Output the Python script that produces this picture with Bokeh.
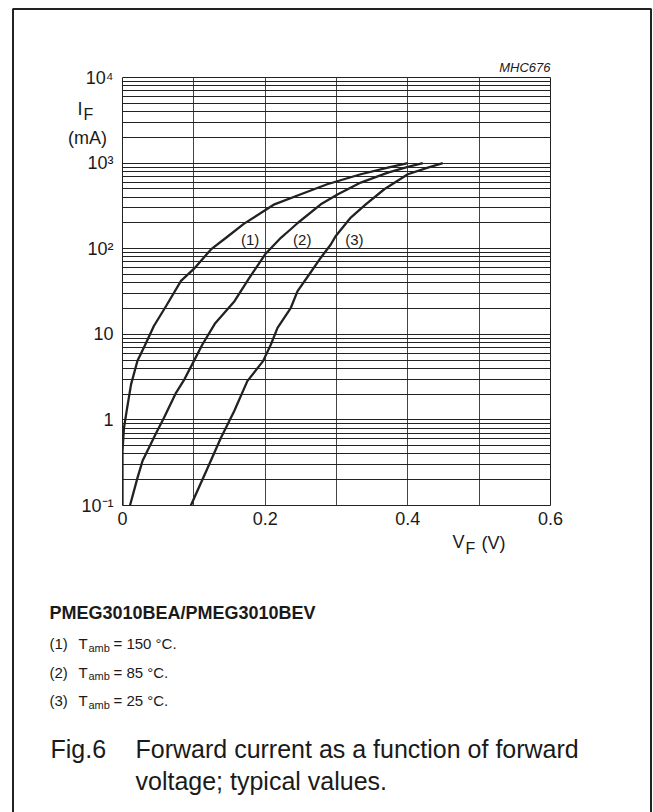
from bokeh.plotting import figure
from bokeh.layouts import column
from bokeh.models import Range1d, FixedTicker, ColumnDataSource
from bokeh.core.properties import value
from bokeh.embed import file_html
from bokeh.resources import INLINE

# ---------------- data ----------------
vf_150 = [0.0, 0.0, 0.002, 0.006, 0.012, 0.021, 0.031, 0.044, 0.062, 0.082, 0.100,
          0.124, 0.147, 0.170, 0.213, 0.250, 0.287, 0.334, 0.372, 0.400]
if_150 = [0.1, 0.43, 0.8, 1.3, 2.6, 4.9, 7.3, 12.5, 22, 42, 58,
          98, 138, 195, 330, 433, 566, 741, 885, 1000]
vf_85 = [0.0105, 0.021, 0.028, 0.047, 0.058, 0.075, 0.087, 0.100, 0.112, 0.130, 0.157,
         0.178, 0.200, 0.222, 0.233, 0.246, 0.278, 0.302, 0.334, 0.372, 0.400, 0.421]
if_85 = [0.1, 0.21, 0.33, 0.7, 1.05, 2.07, 3.0, 4.86, 7.6, 13.5, 24.4,
         45.8, 86, 134, 161, 201, 330, 433, 592, 774, 902, 1000]
vf_25 = [0.0958, 0.119, 0.138, 0.1565, 0.175, 0.197, 0.208, 0.2173, 0.236, 0.2454,
         0.2617, 0.278, 0.292, 0.299, 0.320, 0.341, 0.367, 0.400, 0.428, 0.449]
if_25 = [0.1, 0.27, 0.62, 1.26, 2.84, 4.86, 7.6, 11.9, 20.4, 32,
         50, 78.5, 112, 141, 231, 330, 495, 741, 885, 1000]

curve_names = ["(1)", "(2)", "(3)"]
curve_label_v = [0.179, 0.252, 0.325]
curve_label_i = [128, 128, 128]

x_ticks = [0, 0.2, 0.4, 0.6]
x_tick_labels = ["0", "0.2", "0.4", "0.6"]
x_grid = [0, 0.1, 0.2, 0.3, 0.4, 0.5, 0.6]
y_decades = [0.1, 1, 10, 100, 1000, 10000]
y_tick_labels = ["10\u207b\u00b9", "1", "10", "10\u00b2", "10\u00b3", "10\u2074"]
y_minor = [m * d for d in [0.1, 1, 10, 100, 1000] for m in range(2, 10)]

legend_lines = ["(1)", "(2)", "(3)"]
legend_temps = ["= 150 \u00b0C.", "= 85 \u00b0C.", "= 25 \u00b0C."]

# ---------------- chart ----------------
FONT = "Liberation Sans"
INK = "#1a1a1a"
W, H = 653, 812
L, T, PW, PH = 122, 77, 428, 428

p = figure(width=W, height=H,
           x_range=Range1d(0, 0.6), y_range=Range1d(0.1, 10000),
           y_axis_type="log", output_backend="svg", toolbar_location=None,
           min_border_left=L, min_border_right=W - L - PW,
           min_border_top=T, min_border_bottom=H - T - PH)
p.background_fill_color = "white"
p.border_fill_color = "white"
p.outline_line_color = "#222222"
p.outline_line_width = 1

xt = FixedTicker(ticks=x_ticks)
p.xaxis.ticker = xt
p.xaxis.major_label_overrides = dict(zip(x_ticks, x_tick_labels))
yt = FixedTicker(ticks=y_decades, minor_ticks=y_minor)
p.yaxis.ticker = yt
p.yaxis.major_label_overrides = dict(zip(y_decades, y_tick_labels))
for ax in (p.xaxis, p.yaxis):
    ax.axis_line_color = None
    ax.major_tick_line_color = None
    ax.minor_tick_line_color = None
    ax.major_tick_out = 0
    ax.minor_tick_out = 0
    ax.major_tick_in = 0
    ax.minor_tick_in = 0
    ax.major_label_text_font = FONT
    ax.major_label_text_font_size = "18px"
    ax.major_label_text_color = INK
p.xaxis.major_label_standoff = 6
p.yaxis.major_label_standoff = 9

p.xgrid.ticker = FixedTicker(ticks=x_grid)
p.xgrid.grid_line_color = "#444444"
p.xgrid.grid_line_width = 1
p.ygrid.ticker = yt
p.ygrid.grid_line_color = "#222222"
p.ygrid.grid_line_width = 1
p.ygrid.minor_grid_line_color = "#222222"
p.ygrid.minor_grid_line_width = 1

for v, i in ((vf_150, if_150), (vf_85, if_85), (vf_25, if_25)):
    p.line(v, i, line_color="#222222", line_width=2.3, line_join="round")

p.text(x=curve_label_v, y=curve_label_i, text=curve_names,
       text_font=value(FONT), text_font_size="15px", text_color=INK,
       text_align="center", text_baseline="middle")

# ---------------- overlay with the surrounding texts and frame ----------------
q = figure(width=W, height=H, x_range=Range1d(0, W), y_range=Range1d(H, 0),
           output_backend="svg", toolbar_location=None,
           x_axis_location=None, y_axis_location=None,
           min_border=0, min_border_left=0, min_border_right=0,
           min_border_top=0, min_border_bottom=0)
q.background_fill_color = None
q.border_fill_color = None
q.outline_line_color = None
q.grid.visible = False

tx, ty, tt, ts, ta, tst = [], [], [], [], [], []


def lab(text, x, y, size, align="left", style="normal"):
    tx.append(x); ty.append(y); tt.append(text)
    ts.append(f"{size}px"); ta.append(align); tst.append(style)


lab("MHC676", 550, 67, 13, "right", "italic")
lab("I", 77, 108, 18)
lab("F", 83, 114, 16)
lab("(mA)", 87, 137, 18, "center")
lab("V", 452, 541, 18)
lab("F", 465, 548, 16)
lab("(V)", 481, 542, 18)
lab("PMEG3010BEA/PMEG3010BEV", 49, 612, 18, "left", "bold")
for k, (num, temp) in enumerate(zip(legend_lines, legend_temps)):
    base = 643 + 28.5 * k
    lab(num, 49, base, 15)
    lab("T", 78, base, 15)
    lab("amb", 88, base + 4, 11)
    lab(temp, 113, base, 15)
lab("Fig.6", 50, 748, 25)
lab("Forward current as a function of forward", 135, 748, 25)
lab("voltage; typical values.", 135, 780, 25)

src = ColumnDataSource(dict(x=tx, y=ty, text=tt, size=ts, align=ta, style=tst))
q.text(x="x", y="y", text="text", source=src, text_font=value(FONT),
       text_font_size="size", text_align="align", text_font_style="style",
       text_baseline="alphabetic", text_color=INK)

# outer frame (open at the bottom of the page)
q.line(x=[12.5, 12.5, 650.5, 650.5], y=[H + 20, 8.5, 8.5, H + 20],
       line_color="#222222", line_width=2)

layout = column(p, column(q, margin=(-H, 0, 0, 0)))
open("out.html", "w").write(file_html(layout, INLINE))
